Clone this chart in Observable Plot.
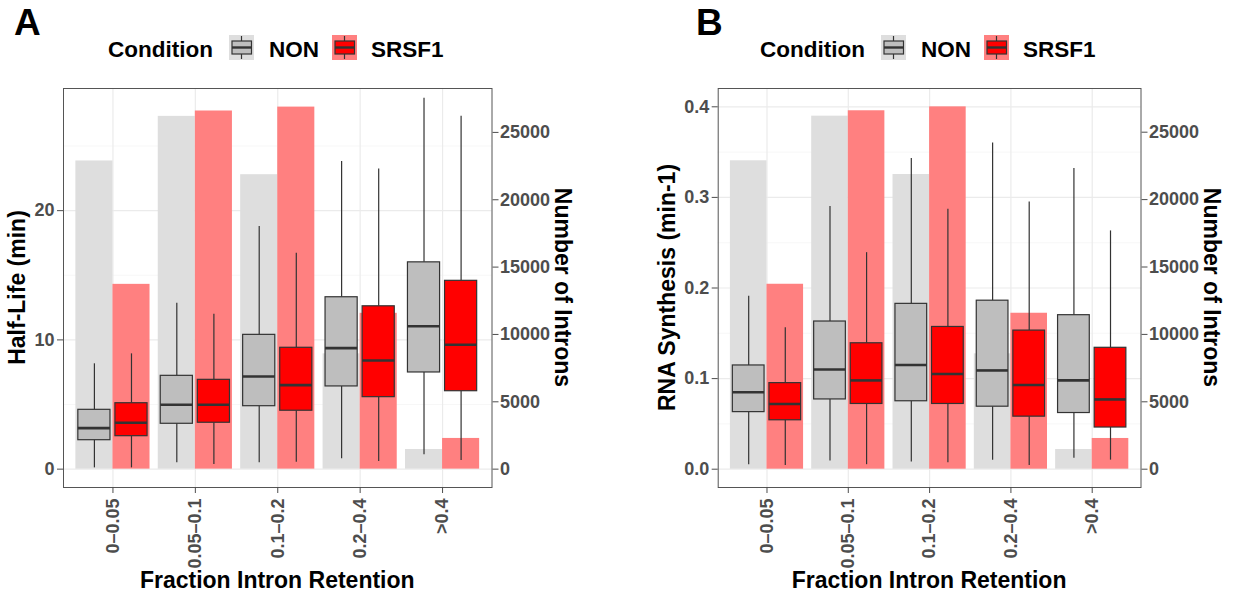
<!DOCTYPE html>
<html>
<head>
<meta charset="utf-8">
<script src="https://cdn.jsdelivr.net/npm/d3@7"></script>
<script src="https://cdn.jsdelivr.net/npm/@observablehq/plot@0.6"></script>
<style>
html, body { margin: 0; padding: 0; background: #fff; }
#root { position: relative; width: 1233px; height: 599px; overflow: hidden; font-family: "Liberation Sans", Arial, sans-serif; }
#root > svg { position: absolute; }
#overlay { left: 0; top: 0; pointer-events: none; }
#overlay text { font-family: "Liberation Sans", Arial, sans-serif; font-weight: bold; }
</style>
</head>
<body>
<div id="root">
<svg id="overlay" width="1233" height="599" viewBox="0 0 1233 599">
  <!-- panel letters -->
  <text x="14" y="35" font-size="37" fill="#000">A</text>
  <text x="696" y="35" font-size="37" fill="#000">B</text>

  <!-- legend A -->
  <g id="legendA">
    <text x="108" y="57" font-size="22.5" fill="#000">Condition</text>
    <rect x="229" y="35" width="25" height="25" fill="#DEDEDE"/>
    <line x1="241.5" x2="241.5" y1="36" y2="59" stroke="#333" stroke-width="1.2"/>
    <rect x="232" y="41" width="19.5" height="13" fill="#BEBEBE" stroke="#333" stroke-width="1.2"/>
    <line x1="232" x2="251.5" y1="47.5" y2="47.5" stroke="#333" stroke-width="2.4"/>
    <text x="269" y="57" font-size="22.5" fill="#000">NON</text>
    <rect x="332" y="35" width="25" height="25" fill="#FF8080"/>
    <line x1="344.5" x2="344.5" y1="36" y2="59" stroke="#333" stroke-width="1.2"/>
    <rect x="335" y="41" width="19.5" height="13" fill="#FF0000" stroke="#333" stroke-width="1.2"/>
    <line x1="335" x2="354.5" y1="47.5" y2="47.5" stroke="#333" stroke-width="2.4"/>
    <text x="371" y="57" font-size="22.5" fill="#000">SRSF1</text>
  </g>
  <!-- legend B -->
  <g transform="translate(652,0)">
    <text x="108" y="57" font-size="22.5" fill="#000">Condition</text>
    <rect x="229" y="35" width="25" height="25" fill="#DEDEDE"/>
    <line x1="241.5" x2="241.5" y1="36" y2="59" stroke="#333" stroke-width="1.2"/>
    <rect x="232" y="41" width="19.5" height="13" fill="#BEBEBE" stroke="#333" stroke-width="1.2"/>
    <line x1="232" x2="251.5" y1="47.5" y2="47.5" stroke="#333" stroke-width="2.4"/>
    <text x="269" y="57" font-size="22.5" fill="#000">NON</text>
    <rect x="332" y="35" width="25" height="25" fill="#FF8080"/>
    <line x1="344.5" x2="344.5" y1="36" y2="59" stroke="#333" stroke-width="1.2"/>
    <rect x="335" y="41" width="19.5" height="13" fill="#FF0000" stroke="#333" stroke-width="1.2"/>
    <line x1="335" x2="354.5" y1="47.5" y2="47.5" stroke="#333" stroke-width="2.4"/>
    <text x="371" y="57" font-size="22.5" fill="#000">SRSF1</text>
  </g>

  <!-- axis titles -->
  <text transform="translate(25,287.5) rotate(-90)" text-anchor="middle" font-size="23" fill="#000">Half-Life (min)</text>
  <text transform="translate(555,287.5) rotate(90)" text-anchor="middle" font-size="23" fill="#000">Number of Introns</text>
  <text x="277.25" y="588" text-anchor="middle" font-size="23" fill="#000">Fraction Intron Retention</text>

  <text transform="translate(675,287.5) rotate(-90)" text-anchor="middle" font-size="23" fill="#000">RNA Synthesis (min-1)</text>
  <text transform="translate(1203.5,287.5) rotate(90)" text-anchor="middle" font-size="23" fill="#000">Number of Introns</text>
  <text x="929.1" y="588" text-anchor="middle" font-size="23" fill="#000">Fraction Intron Retention</text>
</svg>
</div>
<script>
// ---------------- data ----------------
const categories = ["0\u20130.05", "0.05\u20130.1", "0.1\u20130.2", "0.2\u20130.4", ">0.4"];
const conditions = ["NON", "SRSF1"];

// number of introns per category (bars, right axis)
const intronsNON   = [22880, 26190, 21860, 8560, 1460];
const intronsSRSF1 = [13720, 26590, 26880, 11570, 2280];

// box stats per category: [lower whisker, Q1, median, Q3, upper whisker]
const halfLifeNON = [
  [0.10, 2.24, 3.17, 4.59, 8.15],
  [0.49, 3.51, 4.98, 7.22, 12.84],
  [0.49, 4.87, 7.17, 10.39, 18.77],
  [0.80, 6.40, 9.36, 13.30, 23.80],
  [1.11, 7.48, 11.06, 16.00, 28.70]
];
const halfLifeSRSF1 = [
  [0.10, 2.55, 3.59, 5.10, 8.92],
  [0.36, 3.59, 4.98, 6.91, 11.99],
  [0.54, 4.52, 6.50, 9.39, 16.71],
  [0.60, 5.57, 8.41, 12.60, 23.23],
  [0.67, 6.03, 9.62, 14.57, 27.30]
];
const synthesisNON = [
  [0.005, 0.063, 0.085, 0.1145, 0.191],
  [0.009, 0.077, 0.110, 0.163, 0.290],
  [0.008, 0.075, 0.115, 0.1825, 0.343],
  [0.010, 0.069, 0.109, 0.186, 0.360],
  [0.012, 0.062, 0.098, 0.170, 0.332]
];
const synthesisSRSF1 = [
  [0.004, 0.054, 0.072, 0.095, 0.156],
  [0.005, 0.072, 0.098, 0.139, 0.239],
  [0.007, 0.072, 0.105, 0.157, 0.287],
  [0.004, 0.058, 0.093, 0.153, 0.295],
  [0.010, 0.046, 0.077, 0.134, 0.263]
];

// tick values
const xTicks = [0, 1, 2, 3, 4];
const rightTicks = [0, 5000, 10000, 15000, 20000, 25000];
const halfLifeTicks = [0, 10, 20];
const halfLifeMinor = [5, 15, 25];
const synthesisTicks = [0, 0.1, 0.2, 0.3, 0.4];
const synthesisMinor = [0.05, 0.15, 0.25, 0.35];

// secondary-axis factors (introns per unit of left axis)
const secFactorA = 959.6;
const secFactorB = 67211;

// ---------------- styles ----------------
const barFill = {NON: "#DEDEDE", SRSF1: "#FF8080"};
const boxFill = {NON: "#BEBEBE", SRSF1: "#FF0000"};
const dodge = 0.45, boxHalf = 0.195;

function buildRows(statsNON, statsSRSF1) {
  const counts = {NON: intronsNON, SRSF1: intronsSRSF1};
  const stats = {NON: statsNON, SRSF1: statsSRSF1};
  return categories.flatMap((c, i) => conditions.map((cond, j) => ({
    i, j, cond, count: counts[cond][i], s: stats[cond][i]
  })));
}

function panel({width, marginLeft, marginRight, yDomain, yTicks, yMinor, yFormat, rows, k}) {
  const cx = d => d.i + (d.j - 0.5) * dodge;
  const marks = [
    Plot.gridY(yMinor, {stroke: "#F3F3F3", strokeOpacity: 1, strokeWidth: 0.7}),
    Plot.gridY(yTicks, {stroke: "#EBEBEB", strokeOpacity: 1, strokeWidth: 1.2}),
    Plot.gridX(xTicks, {stroke: "#EBEBEB", strokeOpacity: 1, strokeWidth: 1.2})
  ];
  for (const cond of conditions) {
    const r = rows.filter(d => d.cond === cond);
    marks.push(Plot.rect(r, {
      x1: d => cx(d) - dodge / 2, x2: d => cx(d) + dodge / 2,
      y1: d => 0, y2: d => d.count / k, fill: barFill[cond]
    }));
  }
  for (const cond of conditions) {
    const r = rows.filter(d => d.cond === cond);
    marks.push(
      Plot.ruleX(r, {x: cx, y1: d => d.s[0], y2: d => d.s[1], stroke: "#333", strokeWidth: 1.2}),
      Plot.ruleX(r, {x: cx, y1: d => d.s[3], y2: d => d.s[4], stroke: "#333", strokeWidth: 1.2}),
      Plot.rect(r, {
        x1: d => cx(d) - boxHalf, x2: d => cx(d) + boxHalf,
        y1: d => d.s[1], y2: d => d.s[3],
        fill: boxFill[cond], stroke: "#333", strokeWidth: 1.2
      }),
      Plot.ruleY(r, {y: d => d.s[2], x1: d => cx(d) - boxHalf, x2: d => cx(d) + boxHalf, stroke: "#333", strokeWidth: 2.6})
    );
  }
  marks.push(
    Plot.frame({stroke: "#555", strokeWidth: 1}),
    Plot.axisY(yTicks, {anchor: "left", tickSize: 6, tickPadding: 3, tickFormat: yFormat, color: "#4D4D4D", label: null}),
    Plot.axisY(rightTicks.map(t => t / k), {anchor: "right", tickSize: 6, tickPadding: 2, tickFormat: v => String(Math.round(v * k)), color: "#4D4D4D", label: null}),
    Plot.axisX(xTicks, {anchor: "bottom", tickRotate: -90, tickSize: 6, tickPadding: 5, tickFormat: i => categories[i], color: "#4D4D4D", label: null})
  );
  return Plot.plot({
    width, height: 519,
    marginTop: 8, marginBottom: 112, marginLeft, marginRight,
    x: {type: "linear", domain: [-0.6, 4.6]},
    y: {type: "linear", domain: yDomain},
    style: {fontFamily: "Liberation Sans, Arial, sans-serif", fontSize: "18px", fontWeight: "bold", background: "transparent", overflow: "visible"},
    marks
  });
}

const root = document.getElementById("root");
const overlay = document.getElementById("overlay");

const plotA = panel({
  width: 616, marginLeft: 63, marginRight: 124.5,
  yDomain: [-1.42, 29.45], yTicks: halfLifeTicks, yMinor: halfLifeMinor,
  yFormat: d => String(d),
  rows: buildRows(halfLifeNON, halfLifeSRSF1), k: secFactorA
});
plotA.style.left = "0px"; plotA.style.top = "80px";

const plotB = panel({
  width: 617, marginLeft: 101.7, marginRight: 92.5,
  yDomain: [-0.0202, 0.4202], yTicks: synthesisTicks, yMinor: synthesisMinor,
  yFormat: d3.format(".1f"),
  rows: buildRows(synthesisNON, synthesisSRSF1), k: secFactorB
});
plotB.style.left = "616px"; plotB.style.top = "80px";

root.insertBefore(plotA, overlay);
root.insertBefore(plotB, overlay);
</script>
</body>
</html>
